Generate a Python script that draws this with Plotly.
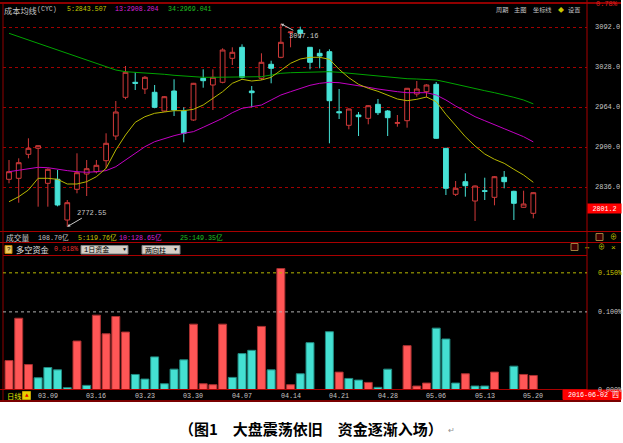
import plotly.graph_objects as go

# ---------------- data ----------------
dates = ["2016-03-03", "2016-03-04", "2016-03-07", "2016-03-08", "2016-03-09", "2016-03-10", "2016-03-11",
         "2016-03-14", "2016-03-15", "2016-03-16", "2016-03-17", "2016-03-18", "2016-03-21", "2016-03-22",
         "2016-03-23", "2016-03-24", "2016-03-25", "2016-03-28", "2016-03-29", "2016-03-30", "2016-03-31",
         "2016-04-01", "2016-04-05", "2016-04-06", "2016-04-07", "2016-04-08", "2016-04-11", "2016-04-12",
         "2016-04-13", "2016-04-14", "2016-04-15", "2016-04-18", "2016-04-19", "2016-04-20", "2016-04-21",
         "2016-04-22", "2016-04-25", "2016-04-26", "2016-04-27", "2016-04-28", "2016-04-29", "2016-05-03",
         "2016-05-04", "2016-05-05", "2016-05-06", "2016-05-09", "2016-05-10", "2016-05-11", "2016-05-12",
         "2016-05-13", "2016-05-16", "2016-05-17", "2016-05-18", "2016-05-19", "2016-05-20"]

open_ = [2848.3, 2849.9, 2888.3, 2897.9, 2841.9, 2848.3, 2783.2, 2832.3, 2856.8, 2860.5,
         2878.1, 2917.6, 2979.5, 3003.5, 2992.8, 2987.5, 2957.6, 2989.6, 2957.6, 2943.2,
         3009.9, 2999.2, 3003.5, 3041.9, 3059.5, 2989.6, 3009.9, 3032.3, 3043.5, 3083.0,
         3087.2, 3059.5, 3049.9, 3052.5, 2956.5, 2934.7, 2951.2, 2945.9, 2968.3, 2957.6,
         2937.9, 2942.1, 2984.8, 2988.5, 3000.3, 2897.9, 2824.3, 2844.5, 2813.6, 2830.1,
         2819.5, 2851.5, 2829.1, 2803.5, 2793.9]
high = [2879.2, 2881.9, 2913.9, 2902.5, 2866.0, 2863.2, 2815.2, 2889.9, 2879.2, 2879.2,
        2921.9, 2973.6, 3029.6, 3019.5, 3013.6, 2999.2, 2981.6, 3008.3, 2963.5, 3002.5,
        3024.3, 3024.3, 3057.9, 3059.5, 3064.3, 2997.6, 3049.9, 3038.1, 3097.16, 3085.0,
        3092.5, 3060.0, 3056.3, 3056.3, 2992.8, 2961.5, 2956.0, 2967.0, 2976.8, 2959.2,
        2951.2, 2994.5, 3005.6, 3000.3, 3004.0, 2898.5, 2845.6, 2857.9, 2838.5, 2850.9,
        2853.5, 2861.6, 2830.0, 2830.1, 2827.5]
low = [2841.9, 2810.9, 2881.9, 2804.5, 2804.5, 2805.0, 2772.55, 2825.9, 2821.6, 2857.9,
       2865.9, 2911.2, 2976.3, 2991.2, 2984.8, 2962.0, 2956.5, 2949.6, 2907.5, 2942.0,
       2994.9, 2959.2, 3001.9, 3031.2, 3009.9, 2963.5, 3007.2, 3001.9, 3042.0, 3059.5,
       3073.9, 3024.3, 3025.9, 2905.9, 2944.8, 2928.3, 2917.6, 2936.3, 2951.2, 2917.6,
       2932.5, 2930.9, 2980.5, 2979.5, 2913.0, 2823.2, 2821.6, 2820.5, 2781.6, 2815.2,
       2806.7, 2833.9, 2783.2, 2803.0, 2785.9]
close = [2860.5, 2874.9, 2897.9, 2902.1, 2864.3, 2807.2, 2810.9, 2858.9, 2865.3, 2870.7,
         2905.9, 2956.0, 3019.5, 3001.9, 3011.5, 2963.5, 2980.5, 2959.2, 2921.9, 3001.9,
         3006.1, 3011.5, 3055.2, 3051.5, 3011.5, 2986.9, 3035.5, 3025.9, 3067.5, 3084.0,
         3081.9, 3035.5, 3045.6, 2974.1, 2954.9, 2960.8, 2948.5, 2966.1, 2954.9, 2946.9,
         2938.9, 2993.9, 2992.8, 2999.2, 2913.9, 2833.9, 2833.9, 2838.1, 2837.6, 2829.1,
         2852.5, 2844.5, 2809.9, 2808.8, 2826.9]

cyc5 = [2812.5, 2820.5, 2831.2, 2849.9, 2849.9, 2848.3, 2840.8, 2840.8, 2844.5, 2852.5,
        2865.9, 2895.2, 2919.2, 2939.5, 2948.5, 2953.9, 2956.0, 2958.1, 2958.1, 2960.3,
        2967.2, 2977.9, 2988.5, 3001.9, 3008.3, 3005.6, 3007.2, 3011.5, 3022.1, 3033.9,
        3040.8, 3043.5, 3043.5, 3040.3, 3024.3, 3010.9, 3000.3, 2993.9, 2989.1, 2982.7,
        2976.8, 2974.1, 2976.3, 2980.0, 2972.5, 2952.3, 2933.6, 2916.5, 2901.6, 2888.8,
        2880.3, 2873.9, 2864.3, 2855.2, 2843.5]
cyc13 = [2860.5, 2863.2, 2864.8, 2867.5, 2866.9, 2864.3, 2862.2, 2860.5, 2859.5, 2860.5,
         2862.2, 2868.5, 2879.2, 2890.9, 2900.5, 2908.5, 2913.9, 2918.1, 2921.9, 2924.6,
         2931.5, 2939.0, 2945.9, 2954.9, 2961.9, 2964.5, 2967.2, 2975.2, 2983.2, 2988.5,
         2993.9, 2998.7, 3001.9, 3003.5, 3002.9, 3000.8, 2997.6, 2995.5, 2992.8, 2990.1,
         2988.5, 2986.9, 2986.9, 2986.9, 2983.2, 2975.2, 2965.6, 2956.5, 2948.5, 2942.1,
         2935.2, 2929.3, 2922.9, 2916.5, 2908.2]
cyc34 = [3081.9, 3076.6, 3071.2, 3065.4, 3060.0, 3054.7, 3049.3, 3044.0, 3039.2, 3033.9,
         3028.5, 3023.2, 3020.5, 3019.5, 3018.9, 3017.9, 3016.3, 3014.7, 3013.6, 3012.0,
         3011.5, 3011.5, 3011.5, 3011.5, 3011.5, 3012.0, 3012.5, 3015.2, 3017.9, 3018.9,
         3019.5, 3020.0, 3020.5, 3020.5, 3019.5, 3017.9, 3016.3, 3014.7, 3013.1, 3011.5,
         3010.4, 3009.3, 3008.8, 3008.3, 3007.2, 3004.0, 3000.3, 2996.5, 2992.8, 2990.1,
         2986.9, 2983.7, 2979.5, 2975.2, 2969.0]

fund = [0.0377, 0.0919, 0.0326, 0.0157, 0.0288, 0.0258, 0.0030, 0.0627, 0.0059, 0.0958,
        0.0720, 0.0941, 0.0742, 0.0199, 0.0140, 0.0424, 0.0080, 0.0267, 0.0386, 0.0843,
        0.0080, 0.0068, 0.0843, 0.0161, 0.0466, 0.0508, 0.0814, 0.0258, 0.1555, 0.0068,
        0.0208, 0.0606, 0.0, 0.0746, 0.0229, 0.0148, 0.0127, 0.0097, 0.0034, 0.0267,
        0.0, 0.0568, 0.0051, 0.0089, 0.0792, 0.0653, 0.0089, 0.0208, 0.0051, 0.0051,
        0.0229, 0.0, 0.0305, 0.0199, 0.0186]
fund_dir = ["R", "R", "R", "C", "C", "C", "C", "R", "C", "R", "R", "R", "R", "C", "C", "C", "C", "C", "C", "R",
            "R", "R", "R", "C", "C", "C", "R", "C", "R", "R", "C", "C", "C", "C", "R", "C", "C", "R", "C", "C",
            "C", "R", "R", "R", "C", "C", "C", "R", "C", "C", "R", "C", "C", "R", "R"]

date_ticks = ["2016-03-09", "2016-03-16", "2016-03-23", "2016-03-30", "2016-04-07", "2016-04-14",
              "2016-04-21", "2016-04-28", "2016-05-06", "2016-05-13", "2016-05-20"]
date_tick_text = ["03.09", "03.16", "03.23", "03.30", "04.07", "04.14", "04.21", "04.28", "05.06", "05.13", "05.20"]
price_ticks = [2836, 2900, 2964, 3028, 3092]
price_tick_text = ["2836.0", "2900.0", "2964.0", "3028.0", "3092.0"]
fund_ticks = [0.15, 0.10, 0.0]
fund_tick_text = ["0.150%", "0.100%", "0.000%"]
last_price = 2801.2
max_label = 3097.16
min_label = 2772.55

# ---------------- layout helpers ----------------
W, H = 623, 443
def fx(p): return p / W
def fy(p): return 1 - p / H

MONO = "Liberation Mono, DejaVu Sans Mono, monospace"
CJK = "Noto Sans CJK SC"
MIX = "Liberation Mono, Noto Sans CJK SC"
UP = "#d23a3a"
DN = "#46e2d6"
YEL = "#b8b800"
MAG = "#c400c4"
GRN = "#00a400"
GRAY = "#c4c4c4"
RED_LINE = "#a80000"

fig = go.Figure()
fig.add_trace(go.Candlestick(
    x=dates, open=open_, high=high, low=low, close=close,
    increasing=dict(line=dict(color=UP, width=1), fillcolor="#000000"),
    decreasing=dict(line=dict(color=DN, width=1), fillcolor=DN),
    whiskerwidth=0, xaxis="x", yaxis="y", showlegend=False, hoverinfo="skip"))
for vals, col in ((cyc34, GRN), (cyc13, MAG), (cyc5, YEL)):
    fig.add_trace(go.Scatter(x=dates, y=vals, mode="lines", line=dict(color=col, width=1),
                             xaxis="x", yaxis="y", showlegend=False, hoverinfo="skip"))
fill_map = {"R": "#ff5656", "C": "#44e0d2"}
edge_map = {"R": "#a83030", "C": "#208a80"}
fig.add_trace(go.Bar(x=dates, y=fund, width=0.82,
                     marker=dict(color=[fill_map[d] for d in fund_dir],
                                 line=dict(color=[edge_map[d] for d in fund_dir], width=1)),
                     xaxis="x2", yaxis="y2", showlegend=False, hoverinfo="skip"))

xr = [-0.618, 59.53]
shapes = []
# black chart background
shapes.append(dict(type="rect", xref="paper", yref="paper", x0=fx(0), x1=fx(621), y0=fy(401), y1=fy(0),
                   fillcolor="#000000", line=dict(width=0), layer="below"))
def hline(y, x0, x1, color=RED_LINE, width=1, dash="solid", yref="paper", yval=None):
    shapes.append(dict(type="line", xref="paper", yref=yref, x0=fx(x0), x1=fx(x1),
                       y0=fy(y) if yval is None else yval, y1=fy(y) if yval is None else yval,
                       line=dict(color=color, width=width, dash=dash), layer="above"))
def vline(x, y0, y1, color=RED_LINE, width=1):
    shapes.append(dict(type="line", xref="paper", yref="paper", x0=fx(x), x1=fx(x), y0=fy(y0), y1=fy(y1),
                       line=dict(color=color, width=width), layer="above"))
hline(3, 0, 621, "#c00000", 1.5)
hline(231.5, 0, 621)
hline(242.5, 0, 621)
hline(255.5, 3, 587)
hline(389.5, 0, 587)
hline(401, 0, 621, "#7a0000", 2)
vline(3, 3, 401, "#900000")
vline(587, 0, 401)
# fund panel dashed guide lines
hline(0, 3, 587, "#b8b800", 1, "dot", "y2", fund_ticks[0])
hline(0, 3, 587, "#b0b0b0", 1, "dot", "y2", fund_ticks[1])

# dropdown boxes & icons
def rect(x0, y0, x1, y1, fill, line="#808080"):
    shapes.append(dict(type="rect", xref="paper", yref="paper", x0=fx(x0), x1=fx(x1), y0=fy(y1), y1=fy(y0),
                       fillcolor=fill, line=dict(color=line, width=1), layer="above"))
rect(81, 245.5, 128, 254, "#d4d0c8")
rect(142, 245.5, 180, 254, "#d4d0c8")
rect(5, 245.5, 12, 253.5, "#e8c860", "#c08000")
rect(22.5, 391.5, 30.5, 399.5, "#e8d000", "#c0a000")
rect(563, 390, 621, 399.5, "#ff0000", "#ff0000")
rect(596, 233.5, 603, 240.5, "#400000", "#a08040")
rect(571, 243.5, 578, 250.5, "#400000", "#a08040")

ann = []
def note(text, x, y, color, size, family=MONO, xanchor="left", **kw):
    d = dict(text=text, x=fx(x), y=fy(y), xref="paper", yref="paper", xanchor=xanchor, yanchor="middle",
             showarrow=False, font=dict(color=color, size=size, family=family), borderpad=0)
    d.update(kw)
    ann.append(d)

# header row
note("成本均线", 3, 9.5, GRAY, 8.2, CJK)
note("(CYC)", 36, 9.5, GRAY, 6.6)
note("5:2843.507", 66, 9.5, "#c8c800", 6.6)
note("13:2908.204", 114, 9.5, "#d820d8", 6.6)
note("34:2969.041", 167, 9.5, "#20c020", 6.6)
note("周期", 495, 9.5, GRAY, 6.2, CJK)
note("主图", 513, 9.5, GRAY, 6.2, CJK)
note("坐标线", 532, 9.5, GRAY, 6.2, CJK)
note("◆", 557, 9.5, "#c8c800", 6, CJK)
note("设置", 567, 9.5, GRAY, 6.2, CJK)
note("0.78%", 595, 4.5, "#e02020", 7)
# volume row
note("成交量", 5, 237, GRAY, 7.8, CJK)
note("108.70亿", 37, 237, GRAY, 6.7, MIX)
note("5:119.76亿", 77, 237, "#c8c800", 6.7, MIX)
note("10:128.65亿", 118, 237, "#d820d8", 6.7, MIX)
note("25:149.35亿", 179, 237, "#20c020", 6.7, MIX)
note("⊕", 613, 237, "#c8c800", 7, MIX, "center")
# fund row
note("?", 8.5, 249.5, "#000000", 6, MONO, "center")
note("多空资金", 15, 249.5, "#e0e0e0", 8.2, CJK)
note("0.018%", 53, 249.5, "#e83030", 6.7)
note("1日资金", 83, 249.8, "#000000", 7, MIX)
note("▼", 124.5, 250, "#000000", 5, MIX, "center")
note("两向柱", 144, 249.8, "#000000", 7, CJK)
note("▼", 175, 250, "#000000", 5, MIX, "center")
note("↔", 587, 247, "#c8c800", 7, MIX, "center")
note("⊕", 601, 247, "#c8c800", 7, MIX, "center")
note("×", 613, 247, "#c8c800", 8, MIX, "center")
# fund axis labels
for v, t, c in zip(fund_ticks, fund_tick_text, ["#c8c800", "#c8c8c8", "#c8c8c8"]):
    ann.append(dict(text=t, x=fx(596), y=v, xref="paper", yref="y2", xanchor="left", yanchor="middle",
                    showarrow=False, font=dict(color=c, size=6.7, family=MONO)))
# bottom row
note("日线", 6, 395.5, "#e0e000", 7.3, CJK)
note("▲", 26.5, 395.5, "#e00000", 6, MIX, "center")
for d, t in zip(date_ticks, date_tick_text):
    ann.append(dict(text=t, x=d, y=fy(395.5), xref="x2", yref="paper", xanchor="center", yanchor="middle",
                    showarrow=False, font=dict(color=GRAY, size=6.7, family=MONO)))
note("2016-06-02 四", 567, 395, "#ffffff", 6.7, MIX)
# last price box
ann.append(dict(text="%.1f" % last_price, x=fx(604), y=last_price, xref="paper", yref="y", xanchor="center",
                yanchor="middle", showarrow=False, bgcolor="#ff0000", width=33, height=9, borderpad=0,
                font=dict(color="#ffffff", size=6.7, family=MONO)))
# extreme labels
ann.append(dict(text="%.2f" % min_label, x=dates[low.index(min_label)], y=min_label, xref="x", yref="y",
                showarrow=True, ax=24, ay=-14, arrowhead=2, arrowsize=0.6, arrowwidth=1, arrowcolor="#c8c8c8",
                font=dict(color="#c8c8c8", size=7, family=MONO)))
ann.append(dict(text="%.2f" % max_label, x=dates[high.index(max_label)], y=max_label, xref="x", yref="y",
                showarrow=True, ax=23, ay=12, arrowhead=2, arrowsize=0.6, arrowwidth=1, arrowcolor="#c8c8c8",
                font=dict(color="#c8c8c8", size=7, family=MONO)))
# caption
note("<b>（图1　大盘震荡依旧　资金逐渐入场）</b>", 311, 428.5, "#000000", 15, CJK, "center")
note("↵", 447, 430, "#909090", 8, MIX)

fig.update_layout(
    width=W, height=H, autosize=False, margin=dict(l=0, r=0, t=0, b=0),
    paper_bgcolor="#ffffff", plot_bgcolor="rgba(0,0,0,0)", showlegend=False,
    xaxis=dict(domain=[fx(3), fx(587)], range=xr, type="category", showticklabels=False, showgrid=False,
               zeroline=False, showline=False, ticks="", rangeslider=dict(visible=False), anchor="y"),
    xaxis2=dict(domain=[fx(3), fx(587)], range=xr, type="category", showticklabels=False, showgrid=False,
                zeroline=False, showline=False, ticks="", anchor="y2"),
    yaxis=dict(domain=[fy(231), fy(18)], range=[2765.6, 3106.4], side="right", anchor="x",
               tickvals=price_ticks, ticktext=price_tick_text, ticks="", ticklabelstandoff=7,
               tickfont=dict(color=GRAY, size=7, family=MONO), showgrid=True, gridcolor="#a00000",
               griddash="dot", gridwidth=1, zeroline=False, showline=False),
    yaxis2=dict(domain=[fy(390), fy(255.5)], range=[0, 0.1722], anchor="x2", showticklabels=False,
                showgrid=False, zeroline=False, showline=False, ticks=""),
    bargap=0.18,
    shapes=shapes, annotations=ann,
)
fig.write_html("out.html", config={"displayModeBar": False},
               post_script="document.body.style.margin='0';document.body.style.padding='0';")
